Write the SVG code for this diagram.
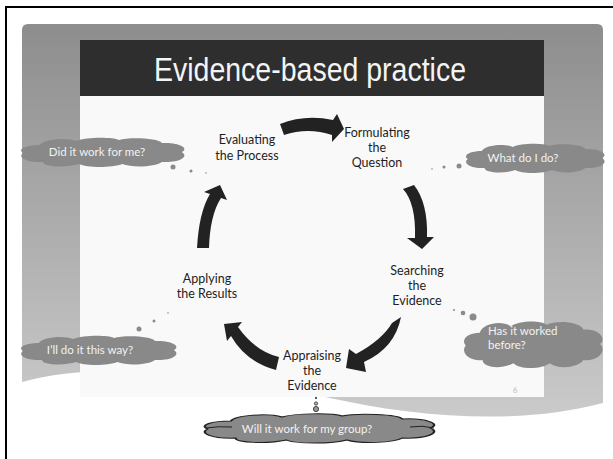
<svg xmlns="http://www.w3.org/2000/svg" width="613" height="459" viewBox="0 0 613 459">
<defs>
<linearGradient id="bg" x1="0" y1="24" x2="0" y2="420" gradientUnits="userSpaceOnUse">
<stop offset="0" stop-color="#8d8d8d"/>
<stop offset="1" stop-color="#cbcbcb"/>
</linearGradient>
<path id="cloud" d="M2,16 C-2,12 4,8 12,8 C14,2 28,0 34,4 C40,0 56,0 60,3 C66,0 84,1 86,6 C96,5 103,11 98,15 C103,20 96,26 86,25 C82,30 68,31 62,27 C56,31 40,31 36,27 C28,31 14,30 14,25 C4,26 -2,20 2,16 Z"/>
</defs>
<style>
.lbl{font-family:Lato,"Liberation Sans",sans-serif;font-size:12.5px;fill:#1e1e1e;text-anchor:middle}
.ct{font-family:Lato,"Liberation Sans",sans-serif;font-size:11.5px;fill:#f2f2f2}
.cl{fill:#898989}
.arrow{fill:#222}
.dot{fill:#8a8a8a}
</style>
<rect width="613" height="459" fill="#fff"/>
<path d="M22,382 L22,30 Q22,24 28,24 L597,24 Q603,24 603,30 L603,403 C520,425 420,418 330,398 C200,370 90,362 22,382 Z" fill="url(#bg)"/>
<rect x="80" y="96" width="464" height="301" fill="#f9f9f9"/>
<rect x="80" y="40" width="464" height="56" fill="#2e2e2e"/>
<text x="310" y="81" font-family="'Liberation Sans',sans-serif" font-size="33" fill="#f4f4f4" text-anchor="middle" textLength="312" lengthAdjust="spacingAndGlyphs">Evidence-based practice</text>
<path d="M6,459 L6,7 L613,7" fill="none" stroke="#000" stroke-width="2"/>
<text x="515" y="393" font-family="Lato,sans-serif" font-size="8" fill="#bdbdbd" text-anchor="middle">6</text>

<g id="connectors">
<path class="arrow" d="M280,124 Q305,114 333,120 L337,114 L344,129 L332,142 L332,135 Q308,127 284,135 Z"/>
<path class="arrow" d="M403,189 Q416,203 415,238 L407,238 L422,249 L434,237 L427,237 Q428,203 414,185 Z"/>
<path class="arrow" d="M401,317 Q395,348 364,362 L366,372 L346,368 L349,349 L356,354 Q382,340 392,323 Z"/>
<path class="arrow" d="M279,357 Q255,351 238,327 L242,322 L224,324 L227,341 L231,336 Q246,362 276,370 Z"/>
<path class="arrow" d="M197,248 Q199,212 210,194 L204,192 L220,185 L227,200 L221,198 Q210,215 209,248 Z"/>
</g>

<g id="evaluating"><text class="lbl" x="247" y="144">Evaluating</text><text class="lbl" x="247" y="160">the Process</text></g>
<g id="formulating"><text class="lbl" x="377" y="137">Formulating</text><text class="lbl" x="377" y="152">the</text><text class="lbl" x="377" y="167">Question</text></g>
<g id="searching"><text class="lbl" x="417" y="275">Searching</text><text class="lbl" x="417" y="290">the</text><text class="lbl" x="417" y="305">Evidence</text></g>
<g id="appraising"><text class="lbl" x="312" y="360">Appraising</text><text class="lbl" x="312" y="375">the</text><text class="lbl" x="312" y="390">Evidence</text></g>
<g id="applying"><text class="lbl" x="207" y="283">Applying</text><text class="lbl" x="207" y="298">the Results</text></g>

<g id="cloud-did">
<use href="#cloud" class="cl" transform="translate(20,137) scale(1.65,1)"/>
<text class="ct" x="97" y="156" text-anchor="middle">Did it work for me?</text>
<circle class="dot" cx="173" cy="167" r="2.5"/><circle class="dot" cx="191" cy="171" r="1.5"/><circle class="dot" cx="206" cy="173" r="0.8"/>
</g>
<g id="cloud-what">
<use href="#cloud" class="cl" transform="translate(465,143) scale(1.4,1)"/>
<text class="ct" x="523" y="162" text-anchor="middle">What do I do?</text>
<circle class="dot" cx="459" cy="166" r="2.5"/><circle class="dot" cx="444" cy="167" r="1.5"/><circle class="dot" cx="432" cy="169" r="0.8"/>
</g>
<g id="cloud-has">
<use href="#cloud" class="cl" transform="translate(463,320) scale(1.4,1.6)"/>
<text class="ct" x="488" y="335">Has it worked</text><text class="ct" x="488" y="349">before?</text>
<circle class="dot" cx="473" cy="317" r="3.5"/><circle class="dot" cx="463" cy="313" r="2.3"/><circle class="dot" cx="454" cy="310" r="1"/>
</g>
<g id="cloud-ill">
<use href="#cloud" class="cl" transform="translate(20,335) scale(1.57,1)"/>
<text class="ct" x="90" y="354" text-anchor="middle">I’ll do it this way?</text>
<circle class="dot" cx="139" cy="329" r="2.5"/><circle class="dot" cx="154" cy="321" r="1.5"/><circle class="dot" cx="168" cy="313" r="0.8"/>
</g>
<g id="cloud-will">
<use href="#cloud" class="cl" transform="translate(203,413) scale(2.32,1)" stroke="#222" stroke-width="1" vector-effect="non-scaling-stroke"/>
<path d="M206,428 Q218,426 232,427 M410,427 Q422,425 434,428" fill="none" stroke="#222" stroke-width="1"/>
<text class="ct" x="307" y="433" text-anchor="middle">Will it work for my group?</text>
<circle cx="316" cy="398" r="1" fill="#222"/><circle cx="316" cy="403.5" r="1.6" fill="#bbb" stroke="#222" stroke-width="0.8"/><circle cx="316" cy="409" r="2.6" fill="#999" stroke="#222" stroke-width="0.8"/>
</g>
</svg>
